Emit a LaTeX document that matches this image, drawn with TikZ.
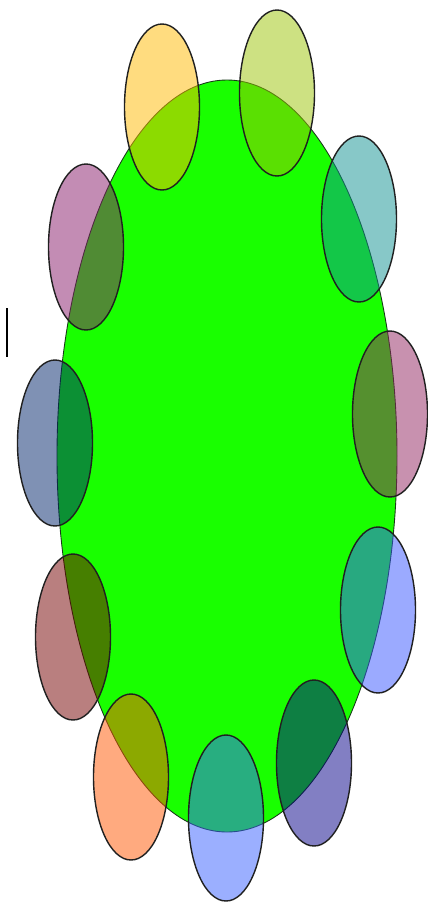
\documentclass[tikz,border=0pt]{standalone}
\usepackage{xcolor,tikz}
\definecolor{bodyGreen}{RGB}{25,255,0}
\definecolor{bodyLine}{HTML}{1A3A1A}
\definecolor{petalLine}{HTML}{202020}
\definecolor{petalYellow}{RGB}{255,185,0}
\definecolor{petalLime}{RGB}{155,195,5}
\definecolor{petalTeal}{RGB}{15,145,145}
\definecolor{petalPink}{RGB}{145,35,95}
\definecolor{petalBlue}{RGB}{55,85,255}
\definecolor{petalPurple}{RGB}{5,0,135}
\definecolor{petalSky}{RGB}{55,95,255}
\definecolor{petalOrange}{RGB}{255,85,0}
\definecolor{petalRed}{RGB}{115,0,0}
\definecolor{petalSlate}{RGB}{0,35,105}
\definecolor{petalMauve}{RGB}{135,25,105}

\begin{document}
\begin{tikzpicture}[x=0.02cm,y=-0.02cm]

% --- PARAMETERS ---
\def\petaldata{162/107/petalYellow, 277/93/petalLime, 359/219/petalTeal,
  390/414/petalPink, 378/610/petalBlue, 314/763/petalPurple,
  226/818/petalSky, 131/777/petalOrange, 73/637/petalRed,
  55/443/petalSlate, 86/247/petalMauve}
\def\petalRx{37.5}          % petal x radius (px)
\def\petalRy{83}            % petal y radius (px)
\def\petalOpacity{0.5}

\useasboundingbox (0,0) rectangle (427,904);

% --- BODY ---
\filldraw[fill=bodyGreen, draw=bodyLine, line width=0.5pt]
  (227,456) ellipse [x radius=170, y radius=376];

% --- PETALS ---
\foreach \cx/\cy/\col in \petaldata {
  \filldraw[fill=\col, fill opacity=\petalOpacity, draw=petalLine, line width=0.8pt]
    (\cx,\cy) ellipse [x radius=\petalRx, y radius=\petalRy];
}

% --- MARK ---
\draw[black, line width=1.2pt] (7,308) -- (7,357);

\end{tikzpicture}
\end{document}
